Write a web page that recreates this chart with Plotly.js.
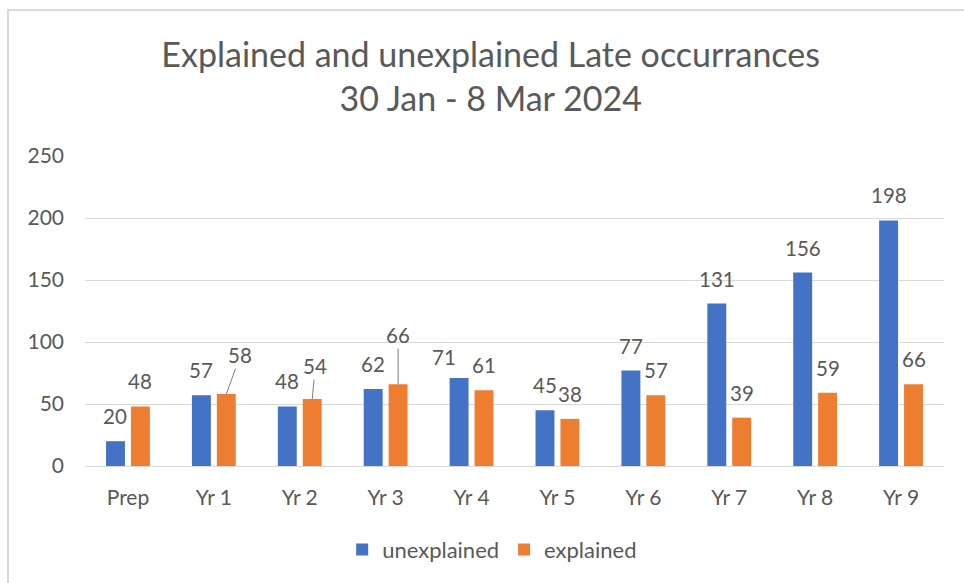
<!DOCTYPE html>
<html>
<head>
<meta charset="utf-8">
<script src="https://cdn.plot.ly/plotly-3.0.1.min.js"></script>
<style>
  html, body { margin: 0; padding: 0; background: #ffffff; overflow: hidden; }
  #wrap { position: relative; width: 964px; height: 583px; }
  #chart { position: absolute; left: 0; top: 0; width: 964px; height: 583px; }
  #frame { position: absolute; left: 7px; top: 9px; width: 980px; height: 600px;
           border: 2px solid #D9D9D9; pointer-events: none; box-sizing: border-box; }
</style>
</head>
<body>
<div id="wrap">
  <div id="chart"></div>
  <div id="frame"></div>
</div>
<script>
// ---- data ----
const categories = ['Prep', 'Yr 1', 'Yr 2', 'Yr 3', 'Yr 4', 'Yr 5', 'Yr 6', 'Yr 7', 'Yr 8', 'Yr 9'];
const unexplained = [20, 57, 48, 62, 71, 45, 77, 131, 156, 198];
const explained = [48, 58, 54, 66, 61, 38, 57, 39, 59, 66];
const seriesNames = ['unexplained', 'explained'];
const titleText = 'Explained and unexplained Late occurrances<br>30 Jan - 8 Mar 2024';

// ---- styles / label placement ----
const colors = ['#4472C4', '#ED7D31'];
const textColor = '#595959';
const fontFamily = 'Lato, "Open Sans", sans-serif';
const barOffsetPx = 12.5;   // half-distance between the two bars of a group
const labelLift = 25;       // label centre above bar top, px
// manually moved labels (index -> pixel tweak)
const moveUnexplained = { 4: { dx: -15, dy: -4 } };
const leaderExplained = { 1: { ax: 14, ay: -39 }, 2: { ax: 3, ay: -33 }, 3: { ax: 0, ay: -49 } };

const traces = [unexplained, explained].map((vals, s) => ({
  type: 'bar',
  name: seriesNames[s],
  x: categories,
  y: vals,
  marker: { color: colors[s], line: { width: 0 } },
  hoverinfo: 'x+y+name'
}));

const annotations = [];
function addLabels(vals, sign, moves, leaders) {
  vals.forEach((v, i) => {
    const lead = leaders[i];
    if (lead) {
      annotations.push({
        x: categories[i], y: v, xref: 'x', yref: 'y',
        xshift: sign * barOffsetPx,
        text: String(v), showarrow: true, arrowhead: 0, arrowwidth: 1,
        arrowcolor: '#7F7F7F', ax: lead.ax, ay: lead.ay, standoff: 0,
        font: { family: fontFamily, size: 20.5, color: textColor }
      });
    } else {
      const m = moves[i] || { dx: 0, dy: 0 };
      annotations.push({
        x: categories[i], y: v, xref: 'x', yref: 'y',
        xshift: sign * barOffsetPx + m.dx, yshift: labelLift + m.dy,
        xanchor: 'center', yanchor: 'middle',
        text: String(v), showarrow: false,
        font: { family: fontFamily, size: 20.5, color: textColor }
      });
    }
  });
}
addLabels(unexplained, -1, moveUnexplained, {});
addLabels(explained, 1, {}, leaderExplained);

const layout = {
  width: 964, height: 583,
  margin: { l: 85, r: 20, t: 156, b: 117, pad: 0 },
  paper_bgcolor: '#ffffff', plot_bgcolor: '#ffffff',
  font: { family: fontFamily, color: textColor, size: 21 },
  title: {
    text: titleText,
    font: { family: fontFamily, size: 34, color: textColor },
    x: 0.509, xanchor: 'center', xref: 'container',
    y: 0.885, yanchor: 'top', yref: 'container'
  },
  barmode: 'group', bargap: 0.42, bargroupgap: 0.24,
  xaxis: {
    type: 'category', showgrid: false, showline: false, zeroline: false,
    ticks: '', ticklabelstandoff: 17,
    tickfont: { family: fontFamily, size: 21, color: textColor }
  },
  yaxis: {
    range: [0, 250], dtick: 50, tick0: 0,
    showgrid: true, gridcolor: '#D9D9D9', gridwidth: 1,
    zeroline: true, zerolinecolor: '#D9D9D9', zerolinewidth: 1,
    showline: false, ticks: '', ticklabelstandoff: 20,
    tickfont: { family: fontFamily, size: 21, color: textColor }
  },
  showlegend: true,
  legend: {
    orientation: 'h', x: 0.474, xanchor: 'center', y: -0.27, yanchor: 'middle',
    font: { family: fontFamily, size: 22, color: textColor },
    bgcolor: 'rgba(0,0,0,0)'
  },
  annotations: annotations
};

Plotly.newPlot('chart', traces, layout, { staticPlot: true, displayModeBar: false });
</script>
</body>
</html>
